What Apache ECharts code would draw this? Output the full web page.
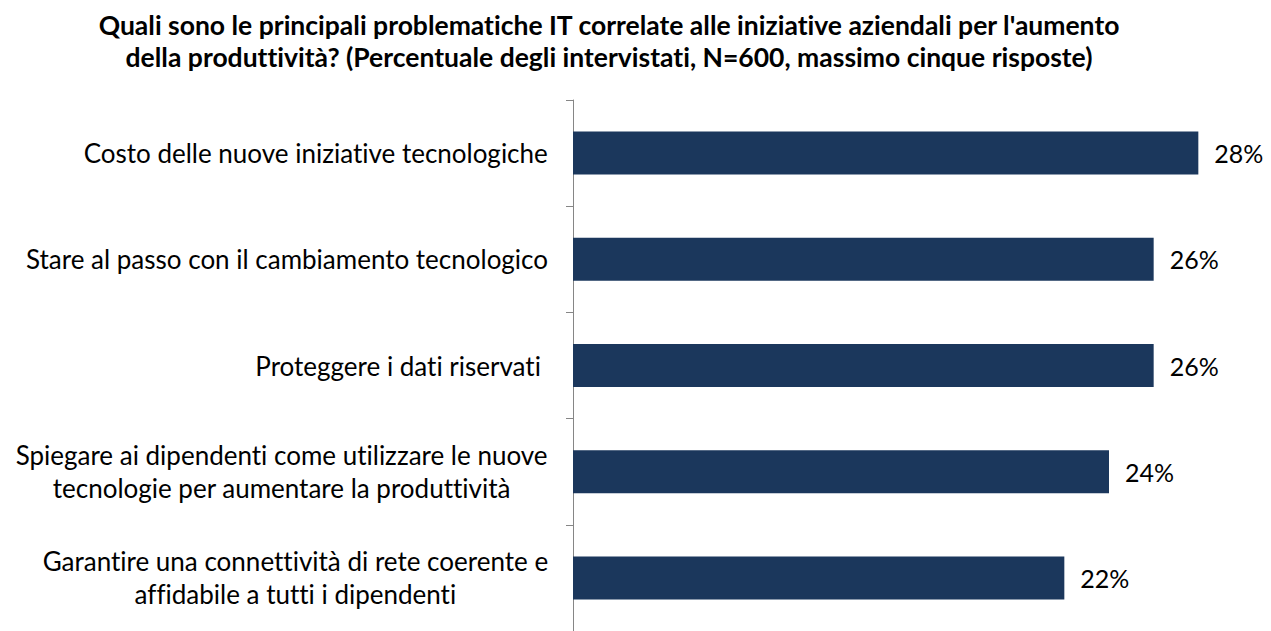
<!DOCTYPE html>
<html>
<head>
<meta charset="utf-8">
<script src="https://cdn.jsdelivr.net/npm/echarts@6/dist/echarts.min.js"></script>
<style>
html,body{margin:0;padding:0;background:#fff;}
#chart{width:1271px;height:631px;}
#chart text{font-variant-ligatures:none !important;font-feature-settings:"liga" 0,"clig" 0 !important;}
</style>
</head>
<body>
<div id="chart"></div>
<script>
const titleText = "Quali sono le principali problematiche IT correlate alle iniziative aziendali per l'aumento\ndella produttività? (Percentuale degli intervistati, N=600, massimo cinque risposte)";
const categories = [
  "Costo delle nuove iniziative tecnologiche",
  "Stare al passo con il cambiamento tecnologico",
  "Proteggere i dati riservati ",
  "Spiegare ai dipendenti come utilizzare le nuove\ntecnologie per aumentare la produttività",
  "Garantire una connettività di rete coerente e\naffidabile a tutti i dipendenti"
];
const values = [28, 26, 26, 24, 22];

const FONT = 'Lato';
const chart = echarts.init(document.getElementById('chart'), null, {renderer: 'svg'});
chart.setOption({
  animation: false,
  backgroundColor: '#ffffff',
  title: {
    text: titleText,
    left: 604,
    top: 4,
    textAlign: 'center',
    textStyle: {
      fontFamily: FONT,
      fontWeight: 'bold',
      fontSize: 26.5,
      lineHeight: 32,
      color: '#000000'
    }
  },
  grid: {
    left: 573,
    top: 100,
    width: 670,
    height: 535,
    containLabel: false
  },
  xAxis: {
    type: 'value',
    min: 0,
    max: 30,
    show: false
  },
  yAxis: {
    type: 'category',
    inverse: true,
    data: categories,
    axisLine: {show: true, lineStyle: {color: '#868686', width: 1}},
    axisTick: {show: true, length: 7, lineStyle: {color: '#868686', width: 1}},
    splitLine: {show: false},
    axisLabel: {
      margin: 25,
      color: '#000000',
      fontFamily: FONT,
      fontSize: 26,
      lineHeight: 33,
      formatter: function (v) {
        return v.split('\n').map(function (l) { return '{c|' + l + '}'; }).join('\n');
      },
      rich: {
        c: {align: 'center', fontFamily: FONT, fontSize: 26, lineHeight: 33, color: '#000000'}
      }
    }
  },
  series: [{
    type: 'bar',
    data: values,
    barWidth: 43,
    itemStyle: {color: '#1B375C'},
    label: {
      show: true,
      position: 'right',
      distance: 16,
      formatter: '{c}%',
      fontFamily: FONT,
      fontSize: 25,
      color: '#000000'
    }
  }]
});
</script>
</body>
</html>
